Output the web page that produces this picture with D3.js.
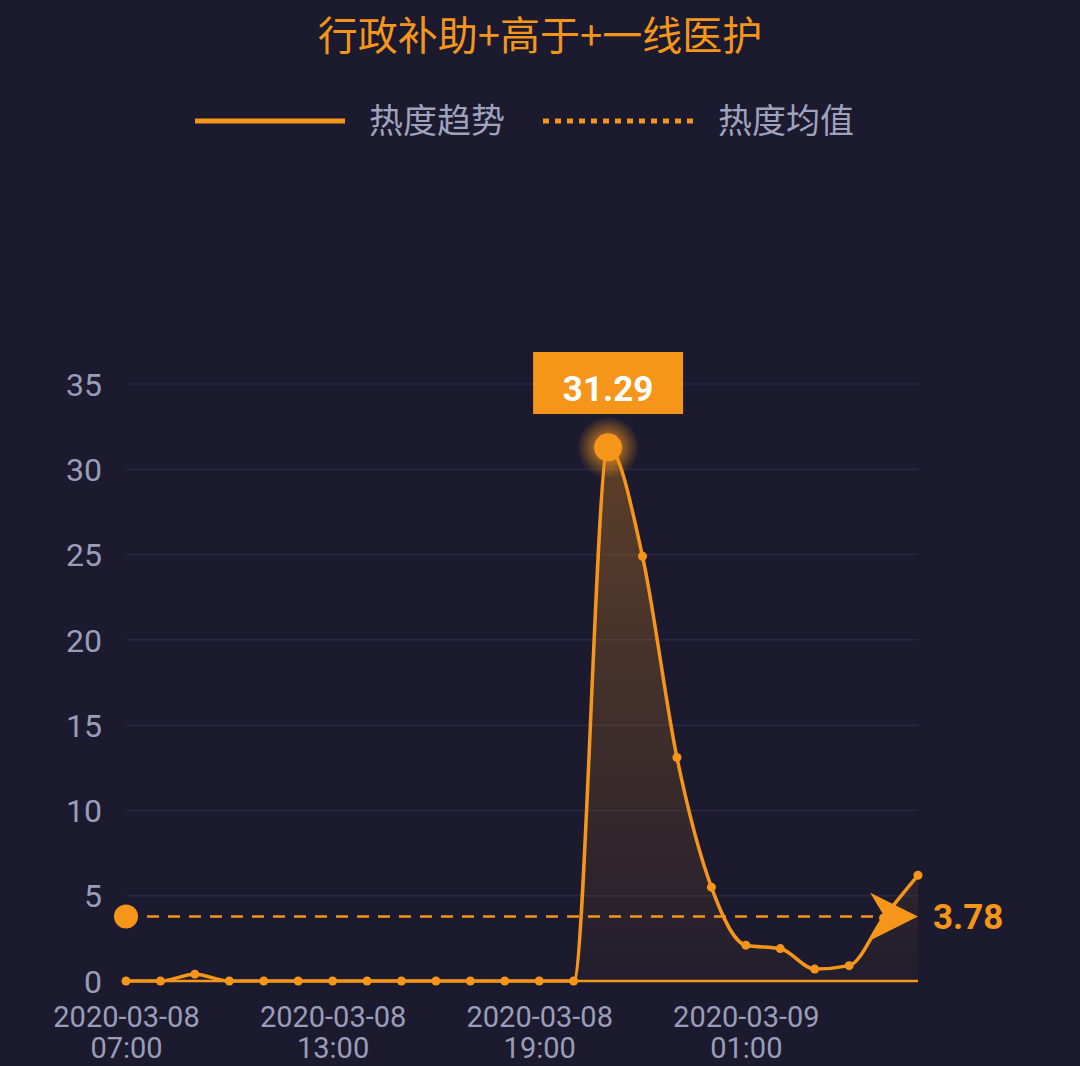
<!DOCTYPE html>
<html><head><meta charset="utf-8">
<script src="https://cdn.jsdelivr.net/npm/d3@7"></script>
<style>
html,body{margin:0;padding:0;background:#1c1a2e;}
svg{display:block;font-family:Roboto,"Noto Sans CJK SC",sans-serif;}
</style></head>
<body>
<svg id="c" width="1080" height="1066"></svg>
<script>
const title = "行政补助+高于+一线医护";
const legendNames = ["热度趋势", "热度均值"];
const dates = ["2020-03-08","2020-03-08","2020-03-08","2020-03-08","2020-03-08","2020-03-08","2020-03-08","2020-03-08","2020-03-08","2020-03-08","2020-03-08","2020-03-08","2020-03-08","2020-03-08","2020-03-08","2020-03-08","2020-03-08","2020-03-09","2020-03-09","2020-03-09","2020-03-09","2020-03-09","2020-03-09","2020-03-09"];
const hours = ["07:00","08:00","09:00","10:00","11:00","12:00","13:00","14:00","15:00","16:00","17:00","18:00","19:00","20:00","21:00","22:00","23:00","00:00","01:00","02:00","03:00","04:00","05:00","06:00"];
const values = [0,0,0.4,0,0,0,0,0,0,0,0,0,0,0,31.29,24.9,13.1,5.5,2.1,1.9,0.7,0.9,3.7,6.2];
const meanValue = 3.78;
const yTicks = [0,5,10,15,20,25,30,35];
const labelEvery = 6;

const orange = "#f5961b";
const svg = d3.select("#c");
const x = d3.scalePoint().domain(d3.range(values.length)).range([126, 918]);
const y = d3.scaleLinear().domain([0, 35]).range([981, 384]);

const defs = svg.append("defs");
const grad = defs.append("linearGradient").attr("id","ag").attr("x1",0).attr("y1",0).attr("x2",0).attr("y2",1);
grad.append("stop").attr("offset","0%").attr("stop-color",orange).attr("stop-opacity",0.3);
grad.append("stop").attr("offset","100%").attr("stop-color",orange).attr("stop-opacity",0.03);
const glow = defs.append("radialGradient").attr("id","glow");
glow.append("stop").attr("offset","45%").attr("stop-color",orange).attr("stop-opacity",0.55);
glow.append("stop").attr("offset","100%").attr("stop-color",orange).attr("stop-opacity",0.0);
defs.append("marker").attr("id","arr").attr("viewBox","0 0 20 20").attr("refX",20).attr("refY",10)
  .attr("markerWidth",48).attr("markerHeight",48).attr("markerUnits","userSpaceOnUse").attr("orient","auto")
  .append("path").attr("d","M0,0 L20,10 L0,20 L6,10 Z").attr("fill",orange);

// title
svg.append("text").attr("x",540).attr("y",50).attr("text-anchor","middle")
  .attr("font-size",40).attr("fill",orange).attr("font-family","'Noto Sans CJK SC',sans-serif").text(title);

// legend
const lg = svg.append("g");
lg.append("line").attr("x1",195).attr("x2",345).attr("y1",121).attr("y2",121).attr("stroke",orange).attr("stroke-width",5);
lg.append("text").attr("x",369).attr("y",133).attr("font-size",34).attr("fill","#9fa2bd").attr("font-family","'Noto Sans CJK SC',sans-serif").text(legendNames[0]);
lg.append("line").attr("x1",543).attr("x2",693).attr("y1",121).attr("y2",121).attr("stroke",orange).attr("stroke-width",5).attr("stroke-dasharray","6,6");
lg.append("text").attr("x",718).attr("y",133).attr("font-size",34).attr("fill","#9fa2bd").attr("font-family","'Noto Sans CJK SC',sans-serif").text(legendNames[1]);

// grid
svg.append("g").selectAll("line").data(yTicks.filter(d=>d>0)).join("line")
  .attr("x1",126).attr("x2",918).attr("y1",d=>y(d)).attr("y2",d=>y(d))
  .attr("stroke","#2a2840").attr("stroke-width",1.5);

// y axis
const ya = svg.append("g").attr("transform","translate(102,0)")
  .call(d3.axisLeft(y).tickValues(yTicks).tickSize(0).tickPadding(0));
ya.select(".domain").remove();
ya.selectAll("text").attr("font-size",32).attr("fill","#9a9db8").attr("font-family","Roboto,sans-serif").attr("dy","0.35em");

// x axis
const xa = svg.append("g").attr("transform","translate(0,981)")
  .call(d3.axisBottom(x).tickValues(d3.range(0, values.length, labelEvery)).tickSize(0).tickFormat(""));
xa.select(".domain").attr("stroke",orange).attr("stroke-width",2.5).attr("d","M126,0H918");
xa.selectAll(".tick").each(function(i){
  const g = d3.select(this);
  g.select("text").remove();
  g.append("text").attr("x",0).attr("y",46).attr("text-anchor","middle").attr("font-size",29).attr("fill","#9a9db8")
    .attr("font-family","Roboto,sans-serif").text(dates[i]);
  g.append("text").attr("x",0).attr("y",77).attr("text-anchor","middle").attr("font-size",29).attr("fill","#9a9db8")
    .attr("font-family","Roboto,sans-serif").text(hours[i]);
});

// area + line
const curve = d3.curveMonotoneX;
svg.append("path").datum(values).attr("fill","url(#ag)")
  .attr("d", d3.area().x((d,i)=>x(i)).y0(y(0)).y1(d=>y(d)).curve(curve));
svg.append("path").datum(values).attr("fill","none").attr("stroke",orange).attr("stroke-width",3.5)
  .attr("d", d3.line().x((d,i)=>x(i)).y(d=>y(d)).curve(curve));
svg.append("g").selectAll("circle").data(values).join("circle")
  .attr("cx",(d,i)=>x(i)).attr("cy",d=>y(d)).attr("r",4.5).attr("fill",orange);

// mean line
svg.append("line").attr("x1",x(0)).attr("x2",918).attr("y1",y(meanValue)).attr("y2",y(meanValue))
  .attr("stroke",orange).attr("stroke-width",2.5).attr("stroke-dasharray","12,9").attr("marker-end","url(#arr)");
svg.append("circle").attr("cx",x(0)).attr("cy",y(meanValue)).attr("r",12).attr("fill",orange);
svg.append("text").attr("x",933).attr("y",y(meanValue)+12).attr("font-size",35).attr("font-weight","bold")
  .attr("fill",orange).text(meanValue.toFixed(2));

// peak
const maxI = d3.maxIndex(values);
const px = x(maxI), py = y(values[maxI]);
svg.append("circle").attr("cx",px).attr("cy",py).attr("r",31).attr("fill","url(#glow)");
svg.append("circle").attr("cx",px).attr("cy",py).attr("r",14).attr("fill",orange);
svg.append("rect").attr("x",px-75).attr("y",352).attr("width",150).attr("height",62).attr("fill",orange);
svg.append("text").attr("x",px).attr("y",401).attr("text-anchor","middle").attr("font-size",35).attr("font-weight","bold")
  .attr("fill","#ffffff").text(values[maxI].toFixed(2));
</script>
</body></html>
